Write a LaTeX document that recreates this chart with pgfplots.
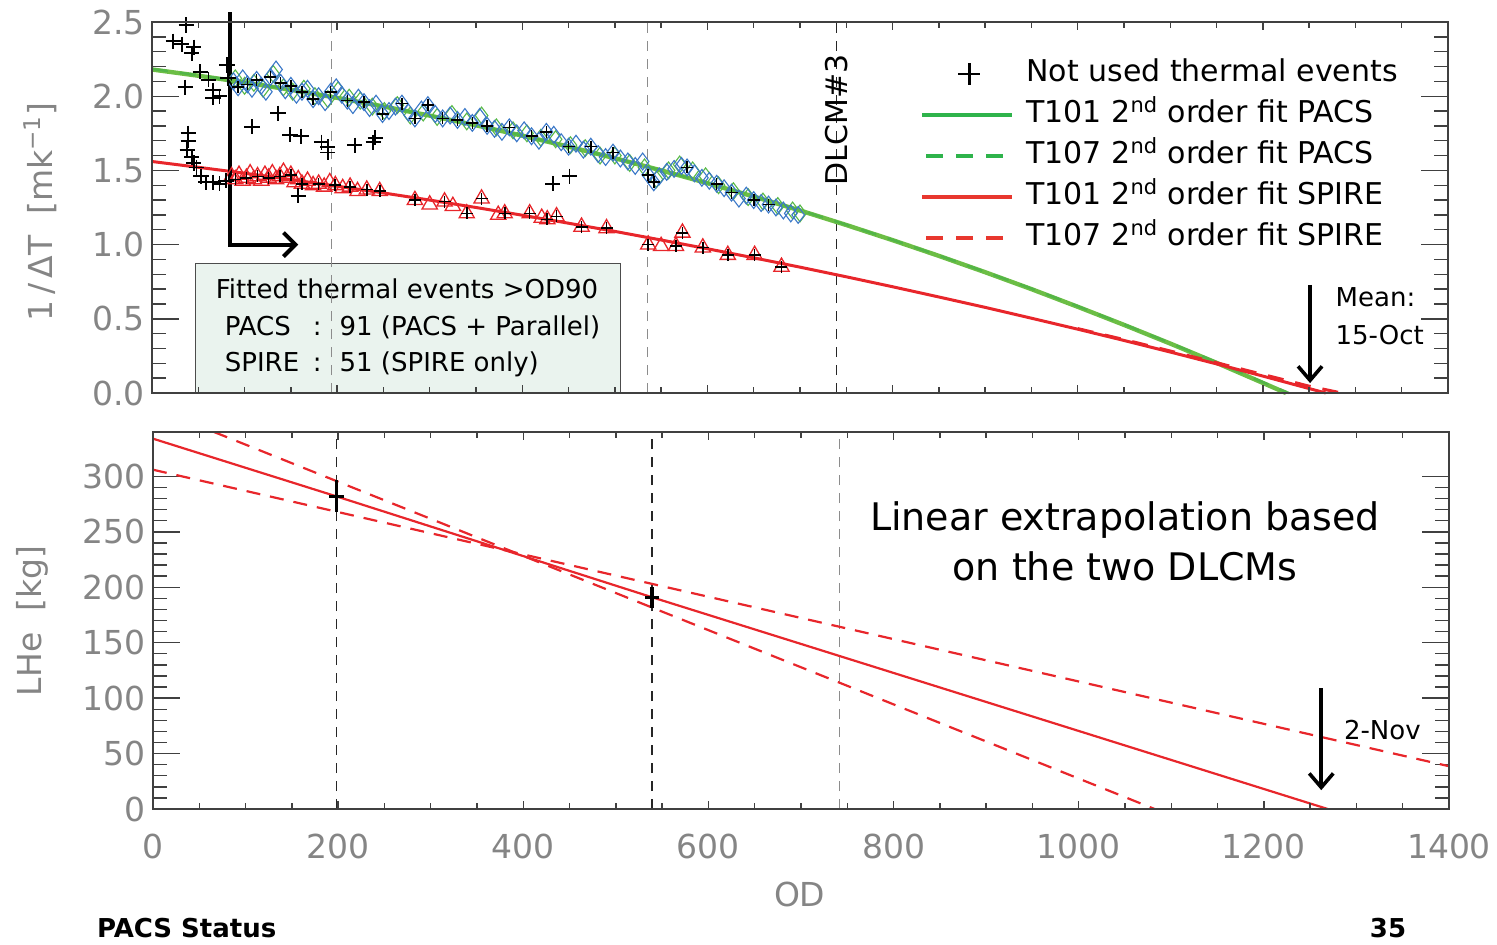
\documentclass[border=0pt]{standalone}
\usepackage{fontspec}
\setmainfont{DejaVu Sans}
\usepackage{pgfplots}
\pgfplotsset{compat=1.18}
\usetikzlibrary{arrows.meta}

\definecolor{fitgreen}{HTML}{6CBE45}
\definecolor{fitgreenb}{HTML}{52B548}
\definecolor{leggreen}{HTML}{2EB34B}
\definecolor{fitred}{HTML}{E8262B}
\definecolor{legred}{HTML}{E8372E}
\definecolor{pacsblue}{HTML}{3B78C8}
\definecolor{pacsgreen}{HTML}{58B947}
\definecolor{boxfill}{HTML}{EAF3EE}
\definecolor{axisgray}{HTML}{404040}
\definecolor{labelgray}{HTML}{858585}

\newcommand{\fs}[2]{\fontsize{#1}{#2}\selectfont}

\pgfplotsset{
  idl/.style={
    scale only axis, width=648pt,
    xmin=0, xmax=1400,
    axis line style={axisgray, line width=0.8pt},
    tick style={axisgray, line width=0.7pt},
    tick align=inside, xtick pos=both, ytick pos=both,
    ticklabel pos=left,
    tick label style={font=\fs{16.5}{18}, text=labelgray},
    label style={font=\fs{16.5}{18}, text=labelgray},
    /pgf/number format/assume math mode=true,
    /pgf/number format/1000 sep={},
  },
  yside/.style={xtick=\empty, major tick length=13.5pt, minor tick length=7pt},
  xside/.style={ytick=\empty, xtick={0,200,...,1400}, minor x tick num=3,
    major tick length=4pt, minor tick length=3pt},
  vdash/.style={line width=0.6pt, dash pattern=on 5pt off 4pt, forget plot},
}

\begin{document}
\begin{tikzpicture}
\path[use as bounding box] (0,0) rectangle (748.5pt,472pt);

% ---------------- top panel: 1/dT ----------------
\begin{axis}[idl, yside,
  at={(76pt,275.5pt)}, anchor=south west, height=185.5pt,
  ymin=0, ymax=2.5, ytick={0,0.5,1,1.5,2,2.5}, minor y tick num=4,
  yticklabel style={/pgf/number format/.cd, fixed, fixed zerofill, precision=1},
  ylabel={1\,/\,ΔT\ \ [mk\textsuperscript{−1}]},
  ylabel style={at={(axis description cs:-0.0864,0.488)}, anchor=center},
  clip=false,
  legend style={at={(0.5925,0.899)}, anchor=north west, draw=none, fill=none,
    inner sep=0pt, row sep=6.5pt, font=\fs{15}{17},
    nodes={inner sep=0pt, text height=11pt, text depth=3pt, text=black},
    /tikz/every odd column/.append style={column sep=6pt}},
  legend cell align=left,
]
\addlegendimage{legend image code/.code={\draw[black, line width=1.3pt] (23.5pt,-5.5pt) -- (23.5pt,5.5pt) (18pt,0pt) -- (29pt,0pt);}}
\addlegendentry{Not used thermal events}
\addlegendimage{legend image code/.code={\draw[leggreen, line width=2pt] (0pt,0pt) -- (45pt,0pt);}}
\addlegendentry{T101 2\textsuperscript{nd} order fit PACS}
\addlegendimage{legend image code/.code={\draw[leggreen, line width=2pt, dash pattern=on 8.5pt off 6.5pt] (2pt,0pt) -- (45pt,0pt);}}
\addlegendentry{T107 2\textsuperscript{nd} order fit PACS}
\addlegendimage{legend image code/.code={\draw[legred, line width=2pt] (0pt,0pt) -- (45pt,0pt);}}
\addlegendentry{T101 2\textsuperscript{nd} order fit SPIRE}
\addlegendimage{legend image code/.code={\draw[legred, line width=2pt, dash pattern=on 8.5pt off 6.5pt] (2pt,0pt) -- (45pt,0pt);}}
\addlegendentry{T107 2\textsuperscript{nd} order fit SPIRE}

\node[draw=black!70, line width=0.6pt, fill=boxfill, anchor=south west,
  minimum width=212.5pt, minimum height=64.5pt, inner sep=0pt, align=left,
  font=\fs{13}{18.25}] at (axis cs:46.4,0)
  {Fitted thermal events >OD90\\
   \hspace*{4.5pt}\makebox[44pt][l]{PACS}:\hspace{9pt}91 (PACS + Parallel)\\
   \hspace*{4.5pt}\makebox[44pt][l]{SPIRE}:\hspace{9pt}51 (SPIRE only)};

\addplot[vdash, black!45] coordinates {(194,0) (194,2.5)};
\addplot[vdash, black!45] coordinates {(535,0) (535,2.5)};
\addplot[vdash, black!85] coordinates {(739,0) (739,2.5)};

% PACS fits
\addplot[fitgreen, line width=2.2pt, forget plot] coordinates {
(0,2.180) (50,2.138) (100,2.093) (150,2.043) (200,1.989) (250,1.931) (300,1.869)
(350,1.804) (400,1.734) (450,1.660) (500,1.582) (550,1.500) (600,1.414) (650,1.324)
(700,1.230) (750,1.132) (800,1.030) (850,0.924) (900,0.814) (950,0.700) (1000,0.581)
(1050,0.459) (1100,0.333) (1150,0.203) (1200,0.068) (1225,0.000)};
\addplot[fitgreenb, line width=1.2pt, dash pattern=on 8pt off 6pt, forget plot] coordinates {
(0,2.184) (50,2.141) (100,2.095) (150,2.045) (200,1.990) (250,1.932) (300,1.870)
(350,1.805) (400,1.735) (450,1.661) (500,1.583) (550,1.501) (600,1.415) (650,1.326)
(700,1.232) (750,1.134) (800,1.032) (850,0.927) (900,0.817) (950,0.704) (1000,0.585)
(1050,0.463) (1100,0.337) (1150,0.208) (1200,0.073) (1228,0.000)};
% SPIRE fits
\addplot[fitred, line width=1.5pt, forget plot] coordinates {
(0,1.560) (50,1.521) (100,1.481) (150,1.438) (200,1.394) (250,1.348) (300,1.300)
(350,1.250) (400,1.198) (450,1.144) (500,1.089) (550,1.031) (600,0.972) (650,0.911)
(700,0.848) (750,0.783) (800,0.716) (850,0.647) (900,0.577) (950,0.504) (1000,0.430)
(1050,0.354) (1100,0.276) (1150,0.196) (1200,0.114) (1250,0.030) (1268,0.000)};
\addplot[fitred, line width=1.5pt, dash pattern=on 8pt off 6pt, forget plot] coordinates {
(1000,0.434) (1050,0.360) (1100,0.283) (1150,0.204) (1200,0.125) (1250,0.046) (1285,0.000)};

% PACS events (T107 green, T101 blue)
\addplot[only marks, mark=diamond, mark size=4.2pt, pacsgreen, mark options={line width=0.55pt}, forget plot] coordinates {
(90,2.12) (100,2.07) (110,2.09) (120,2.05) (131,2.15) (142,2.06) (152,2.03) (164,2.05)
(176,2.00) (190,1.98) (201,2.04) (213,1.99) (225,1.97) (238,1.93) (251,1.90) (265,1.94)
(279,1.87) (293,1.89) (308,1.86) (324,1.88) (340,1.83) (356,1.87) (372,1.79) (390,1.77)
(405,1.75) (420,1.72) (436,1.71) (452,1.67) (468,1.65) (484,1.60) (500,1.60) (516,1.55)
(532,1.52) (545,1.44) (558,1.50) (570,1.54) (584,1.50) (598,1.46) (612,1.40) (628,1.36)
(644,1.32) (660,1.29) (676,1.26) (692,1.23) (700,1.21)};
\addplot[only marks, mark=diamond, mark size=4.2pt, pacsblue, mark options={line width=0.55pt}, forget plot] coordinates {
(88,2.10) (93,2.06) (98,2.12) (103,2.08) (108,2.05) (113,2.11) (118,2.07) (123,2.03)
(128,2.13) (134,2.18) (139,2.09) (144,2.04) (150,2.07) (156,2.01) (162,2.03) (168,2.05)
(174,1.98) (180,2.00) (187,1.96) (193,2.03) (199,2.06) (205,2.01) (211,1.97) (217,1.94)
(223,1.99) (229,1.96) (235,1.92) (242,1.95) (249,1.88) (256,1.90) (263,1.93) (270,1.95)
(277,1.89) (284,1.85) (291,1.91) (298,1.94) (306,1.88) (314,1.85) (322,1.87) (330,1.84)
(338,1.86) (346,1.82) (354,1.86) (362,1.80) (370,1.78) (378,1.76) (386,1.79) (394,1.75)
(402,1.77) (410,1.73) (418,1.70) (426,1.76) (434,1.74) (442,1.69) (450,1.66) (458,1.68)
(466,1.64) (474,1.66) (482,1.61) (490,1.59) (498,1.62) (506,1.58) (514,1.56) (522,1.53)
(530,1.56) (536,1.47) (542,1.42) (548,1.46) (556,1.49) (564,1.51) (572,1.53) (578,1.52)
(586,1.48) (594,1.45) (602,1.43) (610,1.41) (618,1.38) (626,1.35) (634,1.31) (642,1.33)
(650,1.30) (658,1.28) (666,1.27) (674,1.25) (682,1.23) (690,1.21) (698,1.20)};
% SPIRE events
\addplot[only marks, mark=triangle, mark size=4.4pt, fitred, mark options={line width=0.65pt}, forget plot] coordinates {
(86,1.46) (90,1.44) (94,1.47) (98,1.43) (102,1.45) (106,1.48) (110,1.44) (114,1.46)
(118,1.43) (122,1.47) (126,1.45) (130,1.48) (134,1.44) (138,1.46) (142,1.49) (146,1.45)
(150,1.47) (154,1.42) (158,1.44) (162,1.41) (168,1.43) (174,1.40) (180,1.41) (186,1.39)
(192,1.42) (198,1.40) (206,1.38) (214,1.39) (222,1.36) (232,1.37) (246,1.36) (284,1.30)
(300,1.27) (316,1.29) (325,1.26) (340,1.21) (356,1.31) (374,1.20) (381,1.21) (408,1.21)
(421,1.18) (427,1.17) (437,1.19) (464,1.12) (491,1.11) (536,1.00) (550,0.99) (566,0.99)
(573,1.08) (595,0.98) (622,0.93) (651,0.93) (680,0.85)};
% crosses on fitted events
\addplot[only marks, mark=+, mark size=3pt, black, mark options={line width=0.8pt}, forget plot] coordinates {
(93,2.06) (103,2.08) (113,2.11) (128,2.13) (139,2.09) (150,2.07) (162,2.03) (174,1.98)
(193,2.03) (211,1.97) (229,1.96) (249,1.88) (270,1.95) (284,1.85) (298,1.94) (314,1.85)
(330,1.84) (346,1.82) (362,1.80) (386,1.79) (410,1.73) (426,1.76) (450,1.66) (474,1.66)
(498,1.62) (536,1.47) (542,1.42) (578,1.52) (610,1.41) (626,1.35) (650,1.30) (666,1.27)
(90,1.44) (102,1.45) (114,1.46) (126,1.45) (138,1.46) (150,1.47) (162,1.41) (180,1.41)
(198,1.40) (214,1.39) (232,1.37) (246,1.36) (284,1.30) (316,1.29) (340,1.21) (356,1.31)
(381,1.21) (408,1.21) (427,1.17) (437,1.19) (464,1.12) (491,1.11) (536,1.00) (566,0.99)
(573,1.08) (595,0.98) (622,0.93) (651,0.93) (680,0.85)};
% not used events
\addplot[only marks, mark=+, mark size=3.8pt, black, mark options={line width=0.9pt}, forget plot] coordinates {
(37,2.48) (23,2.37) (32,2.35) (45,2.33) (43,2.29) (52,2.165) (61,2.11) (36,2.06)
(66,2.04) (66,1.99) (73,2.00) (81,2.21) (82,2.12)
(39,1.75) (39,1.70) (38,1.64) (43,1.59) (45,1.55) (48,1.52) (53,1.46) (58,1.42)
(66,1.42) (73,1.41) (80,1.43)
(108,1.795) (136,1.885) (149,1.74) (161,1.73) (183,1.69) (190,1.66) (190,1.62)
(219,1.67) (239,1.69) (241,1.72) (158,1.33) (433,1.41) (451,1.46)};

\draw[black, line width=2pt, -{Straight Barb[length=6pt, width=12pt]}]
  (axis cs:84,2.567) -- (axis cs:84,1.0) -- (axis cs:158,1.0);
\draw[black, line width=1.8pt, -{Straight Barb[length=7pt, width=12pt]}]
  (axis cs:1251,0.728) -- (axis cs:1251,0.067);
\node[anchor=west, align=left, font=\fs{13}{19}] at (axis cs:1271,0.519) {Mean:\\15-Oct};
\node[rotate=90, font=\fs{15}{17}, inner sep=0pt] at (axis cs:739,1.84) {DLCM\#3};
\end{axis}

\begin{axis}[idl, xside, at={(76pt,275.5pt)}, anchor=south west, height=185.5pt,
  ymin=0, ymax=2.5, xticklabels={}]
\end{axis}

% ---------------- bottom panel: LHe ----------------
\begin{axis}[idl, yside,
  at={(76.5pt,67.5pt)}, anchor=south west, height=188.5pt,
  ymin=0, ymax=340, ytick={0,50,100,150,200,250,300}, minor y tick num=4,
  ylabel={LHe\ \ [kg]},
  ylabel style={at={(axis description cs:-0.0934,0.499)}, anchor=center},
]
\addplot[vdash, black!85] coordinates {(198,0) (198,340)};
\addplot[vdash, black!85] coordinates {(539,0) (539,340)};
\addplot[vdash, black!45] coordinates {(742,0) (742,340)};

\addplot[fitred, line width=1.1pt, forget plot] coordinates {(0,334) (198,282) (539,191) (1269,0)};
\addplot[fitred, line width=1.1pt, dash pattern=on 7pt off 5pt, forget plot] coordinates {(0,306) (1400,38.6)};
\addplot[fitred, line width=1.1pt, dash pattern=on 7pt off 5pt, forget plot] coordinates {(66,340) (1082,0)};

\addplot[draw=none, forget plot,
  error bars/.cd, x dir=both, x explicit, y dir=both, y explicit, error mark=none,
  error bar style={draw=black, solid, line width=1.6pt}]
  coordinates {(198,282) +- (8,14.4) (539,191) +- (8,9.4)};

\node[align=center, font=\fs{19}{25}] at (axis cs:1050,241.7)
  {Linear extrapolation based\\on the two DLCMs};
\draw[black, line width=1.8pt, -{Straight Barb[length=7pt, width=12pt]}]
  (axis cs:1262,108.7) -- (axis cs:1262,17);
\node[anchor=west, font=\fs{13}{15}] at (axis cs:1279,71) {2-Nov};
\end{axis}

\begin{axis}[idl, xside, at={(76.5pt,67.5pt)}, anchor=south west, height=188.5pt,
  ymin=0, ymax=340,
  xticklabel style={yshift=-9pt},
  xlabel={OD},
  xlabel style={at={(axis description cs:0.499,-0.228)}, anchor=center},
]
\end{axis}

\node[anchor=west, font=\bfseries\fs{13}{15}] at (45pt,8pt) {PACS Status};
\node[font=\bfseries\fs{13}{15}] at (694pt,8pt) {35};
\end{tikzpicture}
\end{document}
